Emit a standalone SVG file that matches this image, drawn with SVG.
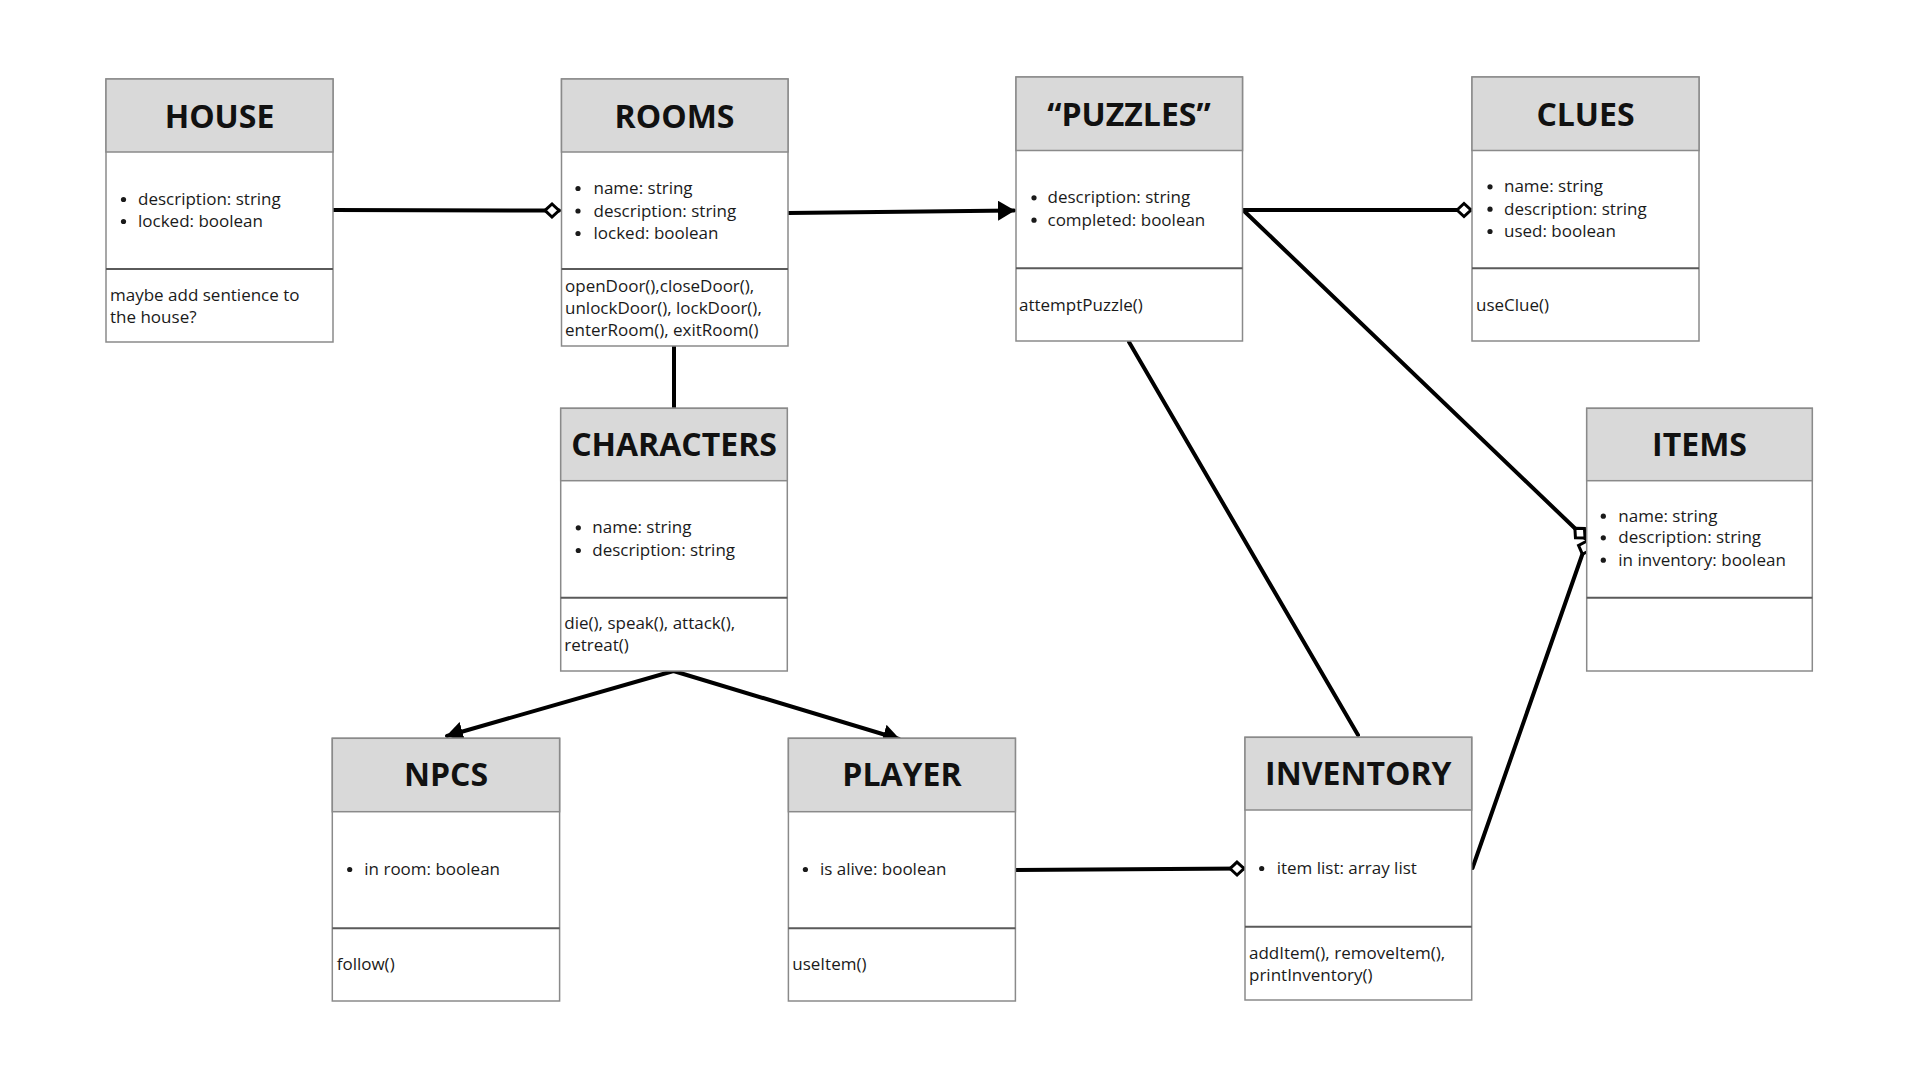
<svg xmlns="http://www.w3.org/2000/svg" width="1920" height="1080" viewBox="0 0 1920 1080">
<style>
.box{fill:#ffffff;stroke:#8a8a8a;stroke-width:1.5}
.hdr{fill:#d9d9d9;stroke:#8a8a8a;stroke-width:1.5}
.div{stroke:#5a5a5a;stroke-width:2}
.title{font-family:"Open Sans","Liberation Sans",sans-serif;font-weight:700;font-size:32px;fill:#111;text-anchor:middle}
.t{font-family:"Open Sans","Liberation Sans",sans-serif;font-size:17px;fill:#1a1a1a}
.dot{fill:#1a1a1a}
.conn{fill:none;stroke:#000;stroke-width:4;stroke-linecap:round}
</style>
<defs>
<marker id="arrow" markerUnits="userSpaceOnUse" viewBox="0 0 17 20" refX="16" refY="10" markerWidth="17" markerHeight="20" orient="auto">
<path d="M0,0 L17,10 L0,20 Z" fill="#000"/>
</marker>
<marker id="diamond" markerUnits="userSpaceOnUse" viewBox="-2 -9 20 18" refX="15" refY="0" markerWidth="20" markerHeight="18" orient="auto">
<path d="M1,0 L8,-6.5 L15,0 L8,6.5 Z" fill="#fff" stroke="#000" stroke-width="3"/>
</marker>
</defs>
<rect width="1920" height="1080" fill="#ffffff"/>

<g id="connectors">
<line class="conn" x1="333" y1="210" x2="559" y2="210.5" marker-end="url(#diamond)"/>
<line class="conn" x1="788" y1="213" x2="1014" y2="210.5" marker-end="url(#arrow)"/>
<line class="conn" x1="1243" y1="210" x2="1471" y2="210" marker-end="url(#diamond)"/>
<line class="conn" x1="1243" y1="210" x2="1585" y2="538" marker-end="url(#diamond)"/>
<line class="conn" x1="674" y1="346" x2="674" y2="408"/>
<line class="conn" x1="673.5" y1="671" x2="447" y2="736" marker-end="url(#arrow)"/>
<line class="conn" x1="673.5" y1="671" x2="899" y2="739" marker-end="url(#arrow)"/>
<line class="conn" x1="1129" y1="342" x2="1358" y2="735"/>
<line class="conn" x1="1016" y1="870" x2="1244" y2="868.5" marker-end="url(#diamond)"/>
<line class="conn" x1="1472.5" y1="868" x2="1587" y2="541" marker-end="url(#diamond)"/>
</g>

<g id="house">
<rect class="box" x="106" y="79" width="227" height="263"/>
<rect class="hdr" x="106" y="79" width="227" height="73"/>
<line class="div" x1="106" y1="269" x2="333" y2="269"/>
<text class="title" x="219.5" y="128">HOUSE</text>
<circle class="dot" cx="123.5" cy="199.5" r="2.6"/><text class="t" x="138" y="205">description: string</text>
<circle class="dot" cx="123.5" cy="221.5" r="2.6"/><text class="t" x="138" y="227">locked: boolean</text>
<text class="t" x="110" y="300.5">maybe add sentience to</text>
<text class="t" x="110" y="323">the house?</text>
</g>

<g id="rooms">
<rect class="box" x="561.5" y="79" width="226.5" height="267"/>
<rect class="hdr" x="561.5" y="79" width="226.5" height="73"/>
<line class="div" x1="561.5" y1="269" x2="788" y2="269"/>
<text class="title" x="674.5" y="128">ROOMS</text>
<circle class="dot" cx="578" cy="188.5" r="2.6"/><text class="t" x="593.5" y="194">name: string</text>
<circle class="dot" cx="578" cy="211" r="2.6"/><text class="t" x="593.5" y="216.5">description: string</text>
<circle class="dot" cx="578" cy="233.5" r="2.6"/><text class="t" x="593.5" y="239">locked: boolean</text>
<text class="t" x="565" y="291.5">openDoor(),closeDoor(),</text>
<text class="t" x="565" y="314">unlockDoor(), lockDoor(),</text>
<text class="t" x="565" y="336">enterRoom(), exitRoom()</text>
</g>

<g id="puzzles">
<rect class="box" x="1016" y="77" width="226.5" height="264"/>
<rect class="hdr" x="1016" y="77" width="226.5" height="73.5"/>
<line class="div" x1="1016" y1="268.3" x2="1242.5" y2="268.3"/>
<text class="title" x="1129" y="126">“PUZZLES”</text>
<circle class="dot" cx="1034" cy="197.8" r="2.6"/><text class="t" x="1047.5" y="203.3">description: string</text>
<circle class="dot" cx="1034" cy="220.2" r="2.6"/><text class="t" x="1047.5" y="225.7">completed: boolean</text>
<text class="t" x="1019" y="310.7">attemptPuzzle()</text>
</g>

<g id="clues">
<rect class="box" x="1472" y="77" width="227" height="264"/>
<rect class="hdr" x="1472" y="77" width="227" height="73.5"/>
<line class="div" x1="1472" y1="268.3" x2="1699" y2="268.3"/>
<text class="title" x="1585.5" y="126">CLUES</text>
<circle class="dot" cx="1490" cy="186.8" r="2.6"/><text class="t" x="1504" y="192.3">name: string</text>
<circle class="dot" cx="1490" cy="209.2" r="2.6"/><text class="t" x="1504" y="214.7">description: string</text>
<circle class="dot" cx="1490" cy="231.5" r="2.6"/><text class="t" x="1504" y="237">used: boolean</text>
<text class="t" x="1476" y="310.7">useClue()</text>
</g>

<g id="characters">
<rect class="box" x="560.7" y="408.3" width="226.6" height="262.7"/>
<rect class="hdr" x="560.7" y="408.3" width="226.6" height="72.4"/>
<line class="div" x1="560.7" y1="597.7" x2="787.3" y2="597.7"/>
<text class="title" x="674" y="456">CHARACTERS</text>
<circle class="dot" cx="578.3" cy="527.8" r="2.6"/><text class="t" x="592.3" y="533.3">name: string</text>
<circle class="dot" cx="578.3" cy="550.5" r="2.6"/><text class="t" x="592.3" y="556">description: string</text>
<text class="t" x="564.3" y="629.3">die(), speak(), attack(),</text>
<text class="t" x="564.3" y="651">retreat()</text>
</g>

<g id="items">
<rect class="box" x="1586.7" y="408.3" width="225.6" height="262.7"/>
<rect class="hdr" x="1586.7" y="408.3" width="225.6" height="72.4"/>
<line class="div" x1="1586.7" y1="597.7" x2="1812.3" y2="597.7"/>
<text class="title" x="1699.5" y="456">ITEMS</text>
<circle class="dot" cx="1603.3" cy="516.2" r="2.6"/><text class="t" x="1618.3" y="521.7">name: string</text>
<circle class="dot" cx="1603.3" cy="537.8" r="2.6"/><text class="t" x="1618.3" y="543.3">description: string</text>
<circle class="dot" cx="1603.3" cy="560.2" r="2.6"/><text class="t" x="1618.3" y="565.7">in inventory: boolean</text>
</g>

<g id="npcs">
<rect class="box" x="332.3" y="738.3" width="227.3" height="262.7"/>
<rect class="hdr" x="332.3" y="738.3" width="227.3" height="73.4"/>
<line class="div" x1="332.3" y1="928.3" x2="559.6" y2="928.3"/>
<text class="title" x="446" y="786">NPCS</text>
<circle class="dot" cx="349.7" cy="869.5" r="2.6"/><text class="t" x="364.3" y="875">in room: boolean</text>
<text class="t" x="336.7" y="970">follow()</text>
</g>

<g id="player">
<rect class="box" x="788.4" y="738.3" width="227" height="262.7"/>
<rect class="hdr" x="788.4" y="738.3" width="227" height="73.4"/>
<line class="div" x1="788.4" y1="928.3" x2="1015.4" y2="928.3"/>
<text class="title" x="902" y="786">PLAYER</text>
<circle class="dot" cx="805.4" cy="869.5" r="2.6"/><text class="t" x="820" y="875">is alive: boolean</text>
<text class="t" x="792.3" y="970">useItem()</text>
</g>

<g id="inventory">
<rect class="box" x="1245" y="737.3" width="226.7" height="262.7"/>
<rect class="hdr" x="1245" y="737.3" width="226.7" height="72.7"/>
<line class="div" x1="1245" y1="926.7" x2="1471.7" y2="926.7"/>
<text class="title" x="1358.3" y="785">INVENTORY</text>
<circle class="dot" cx="1261.7" cy="868.5" r="2.6"/><text class="t" x="1276.7" y="874">item list: array list</text>
<text class="t" x="1249" y="959.3">addItem(), removeItem(),</text>
<text class="t" x="1249" y="981">printInventory()</text>
</g>
</svg>
